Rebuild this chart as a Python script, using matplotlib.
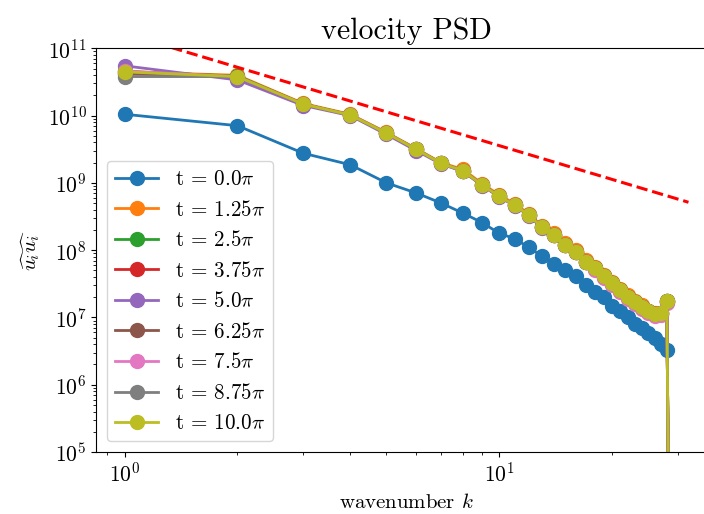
import matplotlib
matplotlib.use("Agg")
import matplotlib.pyplot as plt
import numpy as np

plt.rcParams['font.family'] = 'serif'
plt.rcParams['font.serif'] = ['cmr10', 'DejaVu Serif']
plt.rcParams['mathtext.fontset'] = 'cm'
plt.rcParams['axes.formatter.use_mathtext'] = True

# wavenumbers
k_init = np.arange(1, 29)
k_late = np.arange(1, 30)

# log10 of the spectra
psd0_log = [10.02, 9.85, 9.44, 9.27, 9.00, 8.85, 8.70, 8.55, 8.41, 8.25, 8.17, 8.04, 7.91, 7.80,
            7.71, 7.61, 7.48, 7.38, 7.30, 7.17, 7.10, 7.01, 6.91, 6.85, 6.77, 6.69, 6.61, 6.52]
psd125_log = [10.65, 10.60, 10.18, 10.02, 9.75, 9.51, 9.30, 9.20, 8.99, 8.82, 8.69, 8.54, 8.36, 8.25,
              8.10, 8.00, 7.85, 7.75, 7.63, 7.53, 7.43, 7.33, 7.25, 7.18, 7.10, 7.06, 7.07, 7.25, -2]
psd25_log = [10.64, 10.59, 10.17, 10.01, 9.74, 9.50, 9.29, 9.18, 8.97, 8.80, 8.67, 8.52, 8.34, 8.23,
             8.08, 7.98, 7.83, 7.73, 7.61, 7.51, 7.41, 7.31, 7.235, 7.16, 7.09, 7.05, 7.06, 7.245, -2]
psd375_log = [10.66, 10.58, 10.17, 10.01, 9.74, 9.50, 9.29, 9.18, 8.97, 8.80, 8.67, 8.52, 8.34, 8.23,
              8.08, 7.98, 7.83, 7.73, 7.61, 7.51, 7.41, 7.31, 7.23, 7.16, 7.09, 7.05, 7.06, 7.24, -2]
psd50_log = [10.74, 10.53, 10.15, 10.00, 9.72, 9.48, 9.28, 9.17, 8.96, 8.79, 8.66, 8.51, 8.33, 8.22,
             8.07, 7.97, 7.82, 7.72, 7.60, 7.50, 7.40, 7.30, 7.22, 7.15, 7.08, 7.04, 7.05, 7.23, -2]
psd625_log = [10.62, 10.58, 10.17, 10.01, 9.74, 9.50, 9.29, 9.18, 8.97, 8.80, 8.67, 8.52, 8.34, 8.23,
              8.08, 7.98, 7.83, 7.73, 7.61, 7.51, 7.41, 7.31, 7.23, 7.16, 7.09, 7.05, 7.06, 7.24, -2]
psd75_log = [10.66, 10.58, 10.17, 10.01, 9.74, 9.50, 9.29, 9.18, 8.97, 8.80, 8.67, 8.52, 8.34, 8.23,
             8.07, 7.97, 7.82, 7.71, 7.59, 7.48, 7.38, 7.28, 7.20, 7.13, 7.06, 7.02, 7.03, 7.22, -2]
psd875_log = [10.58, 10.58, 10.17, 10.01, 9.74, 9.50, 9.29, 9.18, 8.97, 8.80, 8.67, 8.52, 8.34, 8.23,
              8.08, 7.98, 7.83, 7.73, 7.61, 7.51, 7.41, 7.31, 7.23, 7.16, 7.09, 7.05, 7.06, 7.24, -2]
psd100_log = [10.65, 10.58, 10.17, 10.01, 9.74, 9.50, 9.29, 9.18, 8.97, 8.80, 8.67, 8.52, 8.34, 8.23,
              8.08, 7.98, 7.83, 7.73, 7.61, 7.51, 7.41, 7.31, 7.235, 7.16, 7.09, 7.05, 7.06, 7.245, -2]

times = ["0.0", "1.25", "2.5", "3.75", "5.0", "6.25", "7.5", "8.75", "10.0"]
series = [psd0_log, psd125_log, psd25_log, psd375_log, psd50_log,
          psd625_log, psd75_log, psd875_log, psd100_log]

# k^(-5/3) reference line, end points
ref_k = [1, 32]
ref_psd = [1.66e11, 5.15e8]

fig = plt.figure(figsize=(7.04, 5.14), dpi=100)
ax = fig.add_axes([0.137, 0.1206, 0.881, 0.7854])

for i, (t, s) in enumerate(zip(times, series)):
    kk = k_init if i == 0 else k_late
    ax.plot(kk, 10.0 ** np.array(s), '-o', color=f'C{i}', lw=2, ms=10,
            label=r't = ' + t + r'$\pi$')

ax.plot(ref_k, ref_psd, 'r--', lw=2.2)

ax.set_xscale('log')
ax.set_yscale('log')
ax.set_ylim(1e5, 1e11)
ax.set_title('velocity PSD', fontsize=21.5, pad=7)
ax.set_xlabel(r'wavenumber $k$', fontsize=15, labelpad=5)
ax.set_ylabel(r'$\widehat{u_i}\widehat{u_i}$', fontsize=15)
ax.tick_params(labelsize=15.5)
ax.legend(loc='lower left', fontsize=15.2)

fig.savefig('out.png', dpi=100)
